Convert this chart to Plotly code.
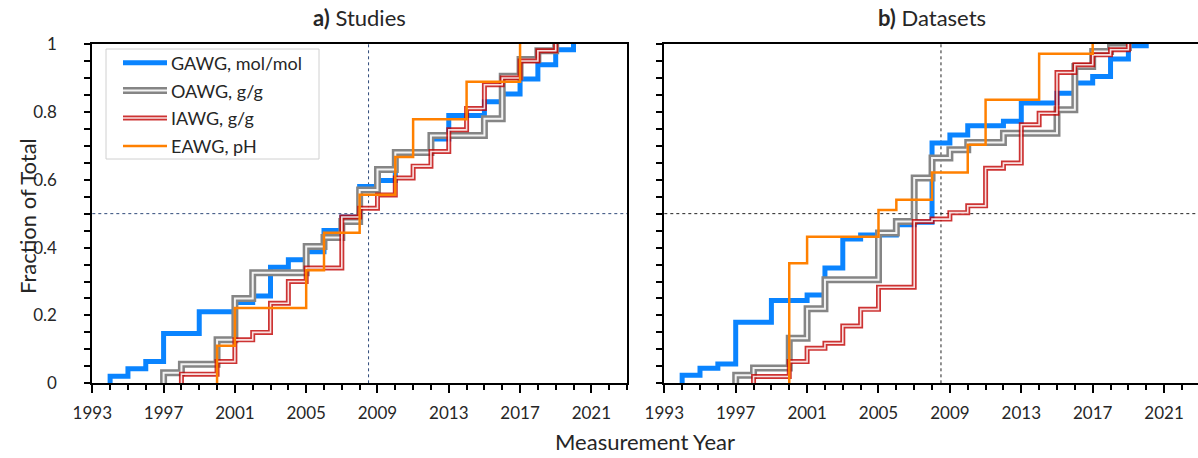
import plotly.graph_objects as go

# ---------------- data (fractions of total, cumulative, by measurement year) -------------
series_names = ["GAWG, mol/mol", "OAWG, g/g", "IAWG, g/g", "EAWG, pH"]

# panel a) Studies
gawg_a_years = [1994, 1995, 1996, 1997, 1999, 2001, 2002, 2003, 2004, 2005, 2006, 2007, 2008, 2009, 2010, 2012, 2013, 2015, 2016, 2017, 2018, 2019, 2020]
gawg_a_frac = [0.021, 0.043, 0.064, 0.147, 0.211, 0.238, 0.257, 0.342, 0.364, 0.388, 0.45, 0.49, 0.58, 0.598, 0.68, 0.72, 0.789, 0.83, 0.853, 0.897, 0.939, 0.983, 1.0]

oawg_a_years = [1997, 1998, 2000, 2001, 2002, 2005, 2006, 2007, 2008, 2009, 2010, 2012, 2015, 2016, 2017, 2018, 2019]
oawg_a_frac = [0.031, 0.056, 0.128, 0.25, 0.326, 0.403, 0.43, 0.477, 0.57, 0.63, 0.68, 0.73, 0.78, 0.905, 0.954, 0.98, 1.0]

iawg_a_years = [1998, 2000, 2001, 2002, 2003, 2004, 2005, 2007, 2008, 2009, 2010, 2011, 2012, 2013, 2014, 2015, 2016, 2017, 2018, 2019]
iawg_a_frac = [0.027, 0.064, 0.128, 0.15, 0.236, 0.30, 0.34, 0.49, 0.516, 0.555, 0.605, 0.64, 0.683, 0.747, 0.81, 0.88, 0.90, 0.95, 0.98, 1.0]

eawg_a_years = [2000, 2001, 2005, 2006, 2008, 2010, 2011, 2014, 2017]
eawg_a_frac = [0.111, 0.222, 0.333, 0.444, 0.556, 0.667, 0.778, 0.889, 1.0]

# panel b) Datasets
gawg_b_years = [1994, 1995, 1996, 1997, 1999, 2001, 2002, 2003, 2004, 2006, 2007, 2008, 2009, 2010, 2012, 2013, 2015, 2016, 2017, 2018, 2019, 2020]
gawg_b_frac = [0.024, 0.044, 0.057, 0.18, 0.244, 0.26, 0.34, 0.425, 0.437, 0.467, 0.475, 0.708, 0.732, 0.759, 0.772, 0.826, 0.855, 0.885, 0.904, 0.956, 0.995, 1.0]

oawg_b_years = [1997, 1998, 2000, 2001, 2002, 2005, 2006, 2007, 2008, 2009, 2010, 2012, 2015, 2016, 2017, 2018, 2019]
oawg_b_frac = [0.024, 0.045, 0.133, 0.22, 0.305, 0.443, 0.477, 0.605, 0.664, 0.688, 0.71, 0.737, 0.806, 0.934, 0.978, 0.99, 1.0]

iawg_b_years = [1998, 2000, 2001, 2002, 2003, 2004, 2005, 2007, 2008, 2009, 2010, 2011, 2012, 2013, 2014, 2015, 2016, 2017, 2018, 2019]
iawg_b_frac = [0.02, 0.064, 0.103, 0.118, 0.169, 0.218, 0.283, 0.477, 0.484, 0.503, 0.523, 0.634, 0.649, 0.762, 0.796, 0.916, 0.939, 0.968, 0.983, 1.0]

eawg_b_years = [2000, 2001, 2005, 2006, 2008, 2010, 2011, 2014, 2017]
eawg_b_frac = [0.354, 0.432, 0.511, 0.541, 0.621, 0.703, 0.836, 0.971, 1.0]

median_year = 2008.5
half_frac = 0.5

panel_titles = ["<b>a)</b> Studies", "<b>b)</b> Datasets"]
x_title = "Measurement Year"
y_title = "Fraction of Total"

# ---------------- styles -------------
styles = [
    [("#0A84FF", 5)],
    [("#858585", 7), ("rgba(255,255,255,0.9)", 2)],
    [("rgba(192,0,0,0.8)", 5), ("rgba(255,255,255,0.85)", 1.6)],
    [("#FF8000", 2.5)],
]

W, H = 1198, 458
FONT = "Lato"

def px_x(p):
    return p / W

def px_y(p):
    return (H - p) / H

fig = go.Figure()

panels = [
    ("x", "y", [(gawg_a_years, gawg_a_frac), (oawg_a_years, oawg_a_frac), (iawg_a_years, iawg_a_frac), (eawg_a_years, eawg_a_frac)]),
    ("x2", "y2", [(gawg_b_years, gawg_b_frac), (oawg_b_years, oawg_b_frac), (iawg_b_years, iawg_b_frac), (eawg_b_years, eawg_b_frac)]),
]

for xa, ya, data in panels:
    for (yrs, fr), layers, name in zip(data, styles, series_names):
        xs = [yrs[0]] + list(yrs)
        ys = [0] + list(fr)
        for color, width in layers:
            fig.add_trace(go.Scatter(
                x=xs, y=ys, mode="lines", name=name,
                line=dict(color=color, width=width, shape="hv"),
                xaxis=xa, yaxis=ya, showlegend=False, hoverinfo="skip"))

# reference lines (median year and half fraction)
ref_colors = {"x": "#2F4A7A", "x2": "#222222"}
for xa, ya, _ in panels:
    fig.add_shape(type="line", xref=xa, yref=ya, x0=median_year, x1=median_year, y0=0, y1=1,
                  line=dict(color=ref_colors[xa], width=1, dash="dot"), layer="below")
    fig.add_shape(type="line", xref=xa + " domain", yref=ya, x0=0, x1=1, y0=half_frac, y1=half_frac,
                  line=dict(color=ref_colors[xa], width=1, dash="dot"), layer="below")

xdom_a = [px_x(92.3), px_x(627)]
xdom_b = [px_x(664.3), 1.0]
ydom = [px_y(383.3), px_y(44)]

axis_common = dict(
    showline=True, linewidth=2, linecolor="black", showgrid=False, zeroline=False,
    ticks="outside", tickwidth=2, tickcolor="black", automargin=False,
    tickfont=dict(family=FONT, size=17, color="#262626"),
)

fig.update_layout(
    template="none",
    width=W, height=H, margin=dict(l=0, r=0, t=0, b=0, pad=0),
    paper_bgcolor="white", plot_bgcolor="white", showlegend=False,
    xaxis=dict(domain=xdom_a, range=[1993, 2023], tick0=1993, dtick=4, ticklen=8, mirror=True,
               ticklabelstandoff=5,
               minor=dict(dtick=1, tick0=1993, ticklen=5, tickwidth=2, tickcolor="black", ticks="outside"),
               anchor="y", **axis_common),
    yaxis=dict(domain=ydom, range=[0, 1], dtick=0.2, ticklen=6, mirror=True, ticklabelstandoff=24,
               minor=dict(dtick=0.05, ticklen=6, tickwidth=2, tickcolor="black", ticks="outside"),
               anchor="x", **axis_common),
    xaxis2=dict(domain=xdom_b, range=[1993, 2022.9], tick0=1993, dtick=4, ticklen=8, mirror=True,
                ticklabelstandoff=5,
                minor=dict(dtick=1, tick0=1993, ticklen=5, tickwidth=2, tickcolor="black", ticks="outside"),
                anchor="y2", **axis_common),
    yaxis2=dict(domain=ydom, range=[0, 1], dtick=0.2, ticklen=6, showticklabels=False,
                minor=dict(dtick=0.05, ticklen=6, tickwidth=2, tickcolor="black", ticks="outside"),
                anchor="x2", **axis_common),
)

# titles
annots = [
    dict(text=panel_titles[0], x=(xdom_a[0] + xdom_a[1]) / 2, y=px_y(18), size=22),
    dict(text=panel_titles[1], x=(xdom_b[0] + px_x(1200)) / 2, y=px_y(18), size=22),
    dict(text=x_title, x=px_x(645), y=px_y(441), size=22),
    dict(text=y_title, x=px_x(27), y=px_y(216), size=22, textangle=-90),
]
for a in annots:
    fig.add_annotation(xref="paper", yref="paper", showarrow=False, xanchor="center", yanchor="middle",
                       text=a["text"], x=a["x"], y=a["y"], textangle=a.get("textangle", 0),
                       font=dict(family=FONT, color="#262626", size=a["size"]))

# legend box (manual, to show the double-line styles)
fig.add_shape(type="rect", xref="paper", yref="paper", x0=px_x(106), x1=px_x(319), y0=px_y(159), y1=px_y(49),
              line=dict(color="#D0D0D0", width=1), fillcolor="white", layer="above")
leg_y = [62.7, 90.5, 118, 146]
for ly, layers, name in zip(leg_y, styles, series_names):
    for color, width in layers:
        fig.add_shape(type="line", xref="paper", yref="paper", x0=px_x(123), x1=px_x(167),
                      y0=px_y(ly), y1=px_y(ly), line=dict(color=color, width=width), layer="above")
    fig.add_annotation(xref="paper", yref="paper", showarrow=False, xanchor="left", yanchor="middle",
                       x=px_x(169), y=px_y(ly), text=name,
                       font=dict(family=FONT, size=18, color="#262626"))

fig.write_html("out.html")
